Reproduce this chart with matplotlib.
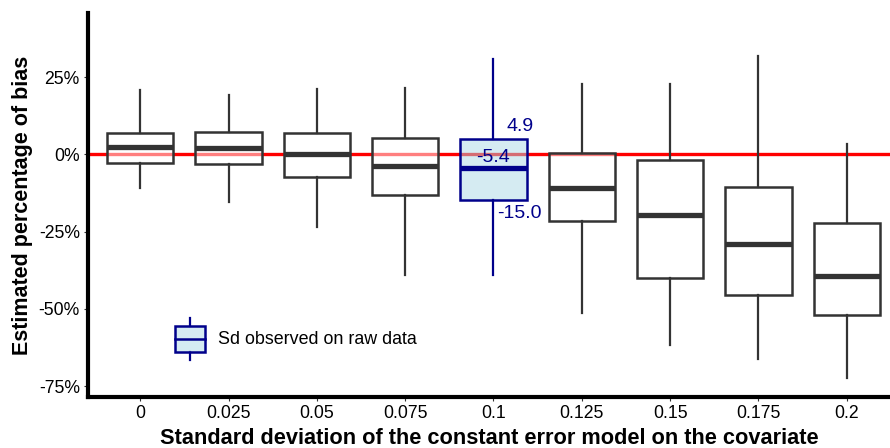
import matplotlib
matplotlib.use("Agg")
import matplotlib.pyplot as plt
from matplotlib.legend_handler import HandlerBase
from matplotlib.patches import Rectangle
from matplotlib.lines import Line2D

plt.rcParams["font.family"] = ["Liberation Sans", "DejaVu Sans"]

# ---- data (percent bias) ----
sd_labels = ["0", "0.025", "0.05", "0.075", "0.1", "0.125", "0.15", "0.175", "0.2"]
whis_hi = [20.8, 19.2, 21.1, 21.4, 30.8, 22.7, 22.7, 31.8, 3.4]
q3 = [6.9, 7.2, 6.9, 5.4, 4.9, 0.6, -1.9, -10.6, -22.3]
median = [2.5, 2.2, 0.0, -3.8, -4.5, -10.7, -19.6, -28.9, -39.3]
q1 = [-2.9, -3.2, -7.3, -13.2, -14.9, -21.4, -40.0, -45.4, -51.9]
whis_lo = [-10.9, -15.5, -23.5, -39.0, -39.0, -51.4, -61.6, -66.1, -72.4]

observed_idx = 4  # sd = 0.1, sd observed on raw data
obs_labels = ["4.9", "-5.4", "-15.0"]
obs_label_vals = [4.9, -5.4, -15.0]

yticks = [25, 0, -25, -50, -75]

GREY = "#333333"
BLUE = "#00008B"
BLUE_FILL = (0.68, 0.85, 0.90, 0.5)

fig = plt.figure(figsize=(8.9, 4.48), dpi=100)
ax = fig.add_axes([0.099, 0.114, 0.901, 0.857])

ax.axhline(0, color="red", lw=2.4, zorder=1)

stats = []
for i, lab in enumerate(sd_labels):
    stats.append(dict(label=lab, med=median[i], q1=q1[i], q3=q3[i],
                      whislo=whis_lo[i], whishi=whis_hi[i], fliers=[]))

positions = list(range(1, len(sd_labels) + 1))
bp = ax.bxp(stats, positions=positions, widths=0.75, patch_artist=True,
            showcaps=False, showfliers=False,
            boxprops=dict(facecolor=(1, 1, 1, 0.5), edgecolor=GREY, lw=1.8),
            medianprops=dict(color=GREY, lw=3.8, solid_capstyle="butt"),
            whiskerprops=dict(color=GREY, lw=1.6),
            zorder=2)

# highlight observed sd
bp["boxes"][observed_idx].set_facecolor(BLUE_FILL)
bp["boxes"][observed_idx].set_edgecolor(BLUE)
bp["medians"][observed_idx].set_color(BLUE)
for w in bp["whiskers"][2 * observed_idx:2 * observed_idx + 2]:
    w.set_color(BLUE)

# value labels for the observed box
xo = positions[observed_idx]
offsets = [(19, 9.5), (0, 9.5), (19, -9.5)]
for txt, v, (dx, dy) in zip(obs_labels, obs_label_vals, offsets):
    ax.annotate(txt, (xo, v), textcoords="offset points", xytext=(dx, dy),
                ha="center", va="center", color=BLUE, fontsize=14, zorder=5)

ax.set_xlim(0.41, 9.49)
ax.set_ylim(-78.5, 45.8)
ax.set_xticks(positions)
ax.set_xticklabels(sd_labels)
ax.set_yticks(yticks)
ax.set_yticklabels([f"{t}%" for t in yticks])
ax.tick_params(axis="both", labelsize=12.7, colors=GREY, labelcolor="black",
               length=3, width=0.8, pad=3)

for side in ["top", "right"]:
    ax.spines[side].set_visible(False)
for side in ["left", "bottom"]:
    ax.spines[side].set_linewidth(3)

ax.set_xlabel("Standard deviation of the constant error model on the covariate",
              fontsize=15.7, fontweight="bold", labelpad=4)
ax.set_ylabel("Estimated percentage of bias", fontsize=15.5, fontweight="bold",
              labelpad=4)


class BoxHandler(HandlerBase):
    def create_artists(self, legend, orig_handle, xdescent, ydescent,
                       width, height, fontsize, trans):
        cx = width / 2 - xdescent
        bw = width * 0.7
        bh = height * 0.62
        y0 = (height - bh) / 2 - ydescent
        rect = Rectangle((cx - bw / 2, y0), bw, bh, facecolor=BLUE_FILL,
                         edgecolor=BLUE, lw=1.8, transform=trans)
        mid = Line2D([cx - bw / 2, cx + bw / 2], [y0 + bh / 2] * 2,
                     color=BLUE, lw=1.8, transform=trans)
        top = Line2D([cx, cx], [y0 + bh, -ydescent + height], color=BLUE,
                     lw=1.6, transform=trans)
        bot = Line2D([cx, cx], [-ydescent, y0], color=BLUE, lw=1.6,
                     transform=trans)
        return [top, bot, rect, mid]


leg = ax.legend([bp["boxes"][observed_idx]], ["Sd observed on raw data"],
                handler_map={type(bp["boxes"][observed_idx]): BoxHandler()},
                loc="center left", bbox_to_anchor=(0.081, 0.152), frameon=False,
                fontsize=12.9, handlelength=2.32, handleheight=3.22,
                handletextpad=0.4)

fig.savefig("out.png", dpi=100)
